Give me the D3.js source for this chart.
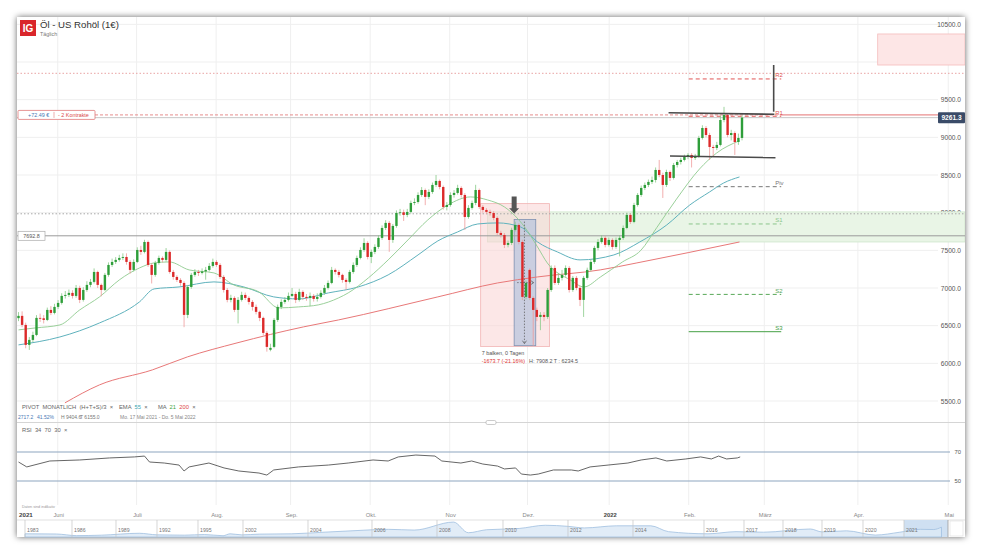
<!DOCTYPE html>
<html><head><meta charset="utf-8">
<script src="https://cdn.jsdelivr.net/npm/d3@7"></script>
<style>
html,body{margin:0;padding:0;background:#fff;}
svg{display:block;font-family:"Liberation Sans",Arial,sans-serif;}
svg text{white-space:pre;}
</style></head><body>
<svg id="chart" width="982" height="553"></svg>
<script>
// ---------------- DATA ----------------
const opens=[6600,6630,6510,6245,6311,6377,6603,6598,6576,6709,
6669,6749,6802,6895,6908,6935,6895,7001,6842,6974,
7041,7081,7213,7041,6974,7174,7306,7346,7373,7399,
7412,7346,7240,7346,7505,7479,7611,7306,7174,7333,
7399,7373,7479,7213,7147,7107,7067,6643,7014,7174,
7213,7200,7220,7240,7293,7346,7306,7147,6974,6842,
6868,6709,6842,6908,6868,6815,6749,6683,6603,6404,
6180,6218,6576,6749,6815,6842,6895,6921,6842,6948,
6882,6868,6895,6855,6882,6935,7001,7067,7240,7213,
7174,7107,7081,7213,7306,7399,7505,7598,7412,7479,
7545,7665,7797,7864,7638,7824,7996,8005,7970,8010,
8129,8142,8235,8301,8209,8275,8368,8421,8341,8076,
8102,8235,8262,8328,8235,7943,8063,8129,8301,8076,
8036,8010,7996,7930,7731,7704,7572,7598,7771,7837,
7611,6882,7240,6868,6709,6616,6643,6616,6974,7266,
7067,7134,7174,7266,6974,7134,7001,6842,7134,7240,
7346,7532,7611,7665,7572,7638,7545,7638,7665,7797,
7970,7877,8102,8235,8328,8368,8408,8434,8567,8500,
8368,8540,8461,8633,8673,8700,8739,8766,8726,8753,
8992,9124,9031,8872,8859,8899,9230,9296,9031,9057,
8938,8992];
const highs=[6680,6690,6540,6350,6420,6640,6660,6640,6740,6760,
6790,6840,6930,6960,6980,6970,7040,7030,7010,7090,
7120,7260,7230,7060,7200,7340,7390,7410,7440,7460,
7460,7370,7380,7540,7560,7640,7630,7330,7360,7430,
7420,7530,7500,7240,7170,7130,7090,7040,7200,7250,
7240,7260,7280,7330,7390,7370,7330,7170,7000,6910,
6890,6880,6950,6940,6890,6840,6780,6700,6620,6430,
6260,6600,6780,6850,6880,6940,7000,6950,6990,6970,
6920,6940,6920,6930,6970,7040,7100,7280,7260,7240,
7190,7130,7240,7340,7430,7540,7660,7620,7510,7580,
7700,7830,7900,7890,7850,8030,8050,8040,8050,8160,
8190,8270,8340,8320,8310,8400,8500,8440,8360,8140,
8270,8300,8370,8350,8260,8100,8160,8370,8320,8100,
8060,8040,8020,7950,7760,7730,7630,7800,7880,7860,
7640,7100,7260,6890,6740,6680,6680,7000,7300,7300,
7200,7240,7300,7290,7160,7160,7030,7160,7270,7380,
7560,7650,7700,7690,7670,7660,7670,7700,7830,8000,
7990,8130,8260,8360,8400,8440,8480,8600,8700,8530,
8570,8560,8660,8700,8730,8770,8790,8790,8780,9020,
9160,9150,9060,8900,8940,9290,9404.6,9320,9100,9080,
9050,9290];
const lows=[6560,6480,6200,6178,6280,6360,6550,6530,6560,6640,
6650,6720,6780,6860,6880,6860,6870,6800,6820,6950,
7010,7060,7000,6890,6960,7150,7280,7320,7350,7370,
7310,7190,7220,7330,7440,7460,7280,7060,7150,7310,
7340,7350,7190,7110,7080,7030,6480,6600,6990,7150,
7160,7180,7110,7220,7270,7280,7120,6940,6810,6810,
6680,6530,6820,6840,6780,6700,6650,6560,6370,6155,
6160,6200,6550,6720,6790,6820,6880,6800,6820,6840,
6830,6760,6820,6820,6860,6910,6980,7050,7180,7140,
7070,6975,7060,7190,7280,7380,7480,7380,7330,7450,
7520,7640,7770,7480,7600,7800,7960,7890,7940,7990,
8100,8120,8210,8100,8180,8250,8340,8310,8040,8030,
8080,8200,8240,8200,7771,7920,8040,8100,8050,8000,
7980,7960,7900,7700,7670,7530,7540,7570,7750,7580,
6840,6850,6840,6234.5,6560,6440,6560,6590,6950,7040,
7040,7100,7150,6940,6950,6970,6760,6616,7110,7220,
7320,7500,7590,7540,7550,7510,7520,7420,7640,7780,
7850,7860,8080,8210,8300,8340,8380,8400,8470,8195,
8340,8420,8440,8600,8640,8680,8710,8600,8700,8730,
8970,9000,8700,8750,8830,8880,9200,9000,8960,8766,
8900,8960];
const closes=[6630,6510,6245,6311,6377,6603,6598,6576,6709,6669,
6749,6802,6895,6908,6935,6895,7001,6842,6974,7041,
7081,7213,7041,6974,7174,7306,7346,7373,7399,7412,
7346,7240,7346,7505,7479,7611,7306,7174,7333,7399,
7373,7479,7213,7147,7107,7067,6643,7014,7174,7213,
7200,7220,7240,7293,7346,7306,7147,6974,6842,6868,
6709,6842,6908,6868,6815,6749,6683,6603,6404,6218,
6205,6576,6749,6815,6842,6895,6921,6842,6948,6882,
6868,6895,6855,6882,6935,7001,7067,7240,7213,7174,
7107,7081,7213,7306,7399,7505,7598,7412,7479,7545,
7665,7797,7864,7638,7824,7996,8005,7970,8010,8129,
8142,8235,8301,8209,8275,8368,8421,8341,8076,8102,
8235,8262,8328,8235,7943,8063,8129,8301,8076,8036,
8010,7996,7930,7731,7704,7572,7598,7771,7837,7611,
6882,7067,6868,6709,6616,6643,6616,6974,7266,7067,
7134,7174,7266,6974,7134,7001,6842,7134,7240,7346,
7532,7611,7665,7572,7638,7545,7638,7665,7797,7970,
7877,8102,8235,8328,8368,8408,8434,8567,8500,8368,
8540,8461,8633,8673,8700,8739,8766,8726,8753,8992,
9124,9031,8872,8859,8899,9230,9296,9031,9057,8938,
8992,9261.3];

// indicator readings: [bar index, value]
const ema55=[[0,6245],[11.5,6350],[22.5,6536],[33.6,6815],[37.7,6988],[44.6,7014],[54.3,7081],[62.6,7014],[70.9,6882],[77.8,6855],[86.1,6935],[94.4,7014],[102.7,7174],[111,7439],[116.5,7625],[122,7744],[127.6,7850],[133.1,7864],[139.5,7810],[144.2,7611],[149.7,7479],[156,7373],[165.4,7439],[172.6,7611],[180.1,7837],[186.5,8102],[192,8275],[195.9,8394],[200.3,8474]];
const ma21=[[0,6444],[4.7,6470],[11.5,6510],[17,6709],[22.5,6882],[28,7107],[33.6,7266],[37.7,7333],[41.9,7346],[47.4,7240],[54.3,7200],[59.8,7041],[66.8,6948],[72.3,6736],[77.8,6749],[83.3,6776],[88.9,6868],[91.6,6935],[97.2,7134],[102.7,7373],[108.2,7638],[113.7,7903],[119.3,8102],[125.6,8209],[130.3,8169],[135,8076],[140.6,7810],[144.2,7545],[146.9,7333],[153.3,7107],[157.1,7014],[161.7,7147],[167.8,7346],[172.9,7500],[177.3,7800],[182.8,8180],[189.2,8580],[193.9,8790],[200.3,8955]];
const ma200=[[12.9,5475],[22.5,5714],[37.2,5913],[46.9,6085],[60.7,6271],[79.2,6484],[88.9,6576],[116.5,6882],[133.1,7067],[144.2,7147],[161.6,7240],[171.8,7333],[200.3,7611]];
const rsi=[[0,63.1],[2.3,59.7],[8.7,63.8],[17,64.5],[25.3,65.9],[32.2,66.6],[35,67.2],[36.4,63.1],[40.5,62.4],[44.6,61.0],[46,56.9],[47.4,59.7],[52.9,62.4],[57.1,59.0],[61.2,56.9],[66.8,55.5],[69,54.1],[70.9,57.6],[77.8,59.7],[86.1,61.0],[91.6,62.4],[98.5,64.5],[102.7,63.8],[105.5,66.6],[110.4,67.9],[115.7,67.2],[117.6,63.8],[122.9,62.4],[125.9,63.8],[129,61.7],[133.1,60.3],[135,58.3],[138.1,59.0],[139.7,54.8],[142.2,54.1],[144.4,54.8],[148.6,57.6],[153.6,57.6],[155.5,56.9],[158.8,59.7],[163.8,61.0],[169.3,62.4],[173,64.5],[177.1,65.9],[180.1,63.8],[185.4,65.2],[189.5,66.6],[192.5,65.2],[194.5,67.2],[196.7,65.2],[199.7,65.9],[200.5,66.6]];

const priceTicks=[5500,6000,6500,7000,7500,8000,8500,9000,9500,10000,10500];
const rsiLevels=[70,50];
const monthLabels=["Juni","Juli","Aug.","Sep.","Okt.","Nov","Dez.","2022","Feb.","März","Apr.","Mai"];
const monthPos=[10.9,32.8,54.9,75.6,97.7,119.8,141.4,164.1,186.2,207.2,233.2,258.3];

const pivotNames=["R2","R1","Piv","S1","S2","S3"];
const pivotValues=[9775,9280,8345,7850,6915,6420];
const pivotRange=[186.2,211.9];

const lastPrice=9261.3;
const entryPrice=9297.5;
const targetLevel=9850;
const level8000=7985;
const levelLine=7692.8;
const greenZone={from:130.3,to:262,hi:8010,lo:7611};
const pinkTopZone={from:238.7,to:262,hi:10372,lo:9960};
const pinkBox={from:128.4,to:147.5,hi:8120,lo:6222};
const measureBox={from:137.7,to:143.7,hi:7908.2,lo:6234.5};
const trendTop=[[180.6,9327],[210,9306]];
const trendVert=[[209.8,9960],[209.8,9340]];
const trendBottom=[[181,8753],[210.3,8730]];

const navYears=[1983,1986,1989,1992,1995,2002,2004,2006,2008,2010,2012,2014,2016,2017,2018,2019,2020,2021];
const navPrices=[[1983,30],[1985,28],[1986.3,13],[1988,17],[1990.7,35],[1992,20],[1994,17],[1996,23],[1998.9,12],[2000,30],[2001.8,20],[2002.5,27],[2003.5,30],[2004.5,45],[2005.5,60],[2006.5,72],[2007.3,65],[2008.5,140],[2008.95,40],[2009.5,68],[2010.5,80],[2011.3,110],[2012,100],[2012.5,85],[2013.5,105],[2014.5,105],[2015,50],[2016.1,30],[2016.8,50],[2017.5,45],[2018.7,75],[2019,48],[2019.6,58],[2020.3,18],[2020.9,45],[2021.5,72],[2021.9,70],[2022.15,92]];

// ---------------- LAYOUT ----------------
const svg=d3.select("#chart");
const cardL=17,cardT=17,cardR=965,cardB=537;
const plotR=938;
const x=d3.scaleLinear().domain([0,201]).range([18.5,742]);
const y=d3.scaleLinear().domain([5500,10000]).range([401,62]);
const yR=d3.scaleLinear().domain([50,70]).range([481,452]);
const nx=d3.scaleLinear().domain([1983,1986,1989,1992,1995,2002,2004,2006,2008,2010,2012,2014,2016,2017,2018,2019,2020,2021,2022.35])
  .range([25,72,116,157,198,243,308,372,437,503,568,633,704,744,783,822,863,904,948]);
const ny=d3.scaleLinear().domain([0,150]).range([537,521]);

const defs=svg.append("defs");
const f=defs.append("filter").attr("id","sh").attr("x","-5%").attr("y","-5%").attr("width","110%").attr("height","110%");
f.append("feDropShadow").attr("dx",0).attr("dy",0).attr("stdDeviation",3).attr("flood-color","#000").attr("flood-opacity",0.6);
defs.append("clipPath").attr("id","cp").append("rect").attr("x",cardL).attr("y",cardT).attr("width",cardR-cardL).attr("height",420-cardT);

svg.append("rect").attr("x",cardL).attr("y",cardT).attr("width",cardR-cardL).attr("height",cardB-cardT).attr("fill","#fff").attr("filter","url(#sh)");

const g=svg.append("g");
// grid
g.selectAll(".hg").data(priceTicks).enter().append("line")
 .attr("x1",cardL).attr("x2",plotR).attr("y1",d=>y(d)).attr("y2",d=>y(d)).attr("stroke","#efefef");
g.selectAll(".vg").data(monthPos).enter().append("line")
 .attr("x1",d=>x(d)).attr("x2",d=>x(d)).attr("y1",cardT).attr("y2",505).attr("stroke","#efefef");

// y labels
g.selectAll(".yl").data(priceTicks).enter().append("text")
 .attr("x",961).attr("y",d=>y(d)+2.5).attr("text-anchor","end").attr("font-size",6.6).attr("fill","#555")
 .text(d=>d3.format(".1f")(d));

const pg=svg.append("g").attr("clip-path","url(#cp)");

// zones
pg.append("rect").attr("x",x(greenZone.from)).attr("width",cardR-x(greenZone.from)).attr("y",y(greenZone.hi)).attr("height",y(greenZone.lo)-y(greenZone.hi))
 .attr("fill","#e9f5e6").attr("stroke","#cfe6cb").attr("stroke-width",0.8);
pg.append("rect").attr("x",x(pinkTopZone.from)).attr("width",cardR-x(pinkTopZone.from)).attr("y",y(pinkTopZone.hi)).attr("height",y(pinkTopZone.lo)-y(pinkTopZone.hi))
 .attr("fill","#fde6e6").attr("stroke","#f4bcbc").attr("stroke-width",0.8);
pg.append("rect").attr("x",x(pinkBox.from)).attr("width",x(pinkBox.to)-x(pinkBox.from)).attr("y",y(pinkBox.hi)).attr("height",y(pinkBox.lo)-y(pinkBox.hi))
 .attr("fill","#f9d3d3").attr("fill-opacity",0.55).attr("stroke","#f1b4b4").attr("stroke-width",0.8);
pg.append("rect").attr("x",x(measureBox.from)).attr("width",x(measureBox.to)-x(measureBox.from)).attr("y",y(measureBox.hi)).attr("height",y(measureBox.lo)-y(measureBox.hi))
 .attr("fill","#b9c6dd").attr("fill-opacity",0.75).attr("stroke","#7d8fb0").attr("stroke-width",0.8);

// horizontal levels
pg.append("line").attr("x1",cardL).attr("x2",cardR).attr("y1",y(targetLevel)).attr("y2",y(targetLevel)).attr("stroke","#e9a3a3").attr("stroke-dasharray","1.5,2");
pg.append("line").attr("x1",cardL).attr("x2",cardR).attr("y1",y(level8000)).attr("y2",y(level8000)).attr("stroke","#a8a8a8").attr("stroke-dasharray","1.5,2");
pg.append("line").attr("x1",cardL).attr("x2",cardR).attr("y1",y(levelLine)).attr("y2",y(levelLine)).attr("stroke","#9a9a9a").attr("stroke-width",1);
pg.append("line").attr("x1",cardL).attr("x2",plotR).attr("y1",y(lastPrice)).attr("y2",y(lastPrice)).attr("stroke","#c8c8c8");
pg.append("line").attr("x1",95).attr("x2",x(pivotRange[1])).attr("y1",y(entryPrice)).attr("y2",y(entryPrice)).attr("stroke","#e07070").attr("stroke-dasharray","3,2").attr("stroke-width",0.8);
pg.append("line").attr("x1",x(pivotRange[1])).attr("x2",cardR).attr("y1",y(entryPrice)).attr("y2",y(entryPrice)).attr("stroke","#e06060").attr("stroke-width",0.9);

// pivots
const pivColors=["#e05555","#e05555","#777","#8cc78c","#58a858","#45a045"];
const pivDash=["4,3","4,3","4,3","4,3","4,3",null];
pivotValues.forEach((v,k)=>{
  const ln=pg.append("line").attr("x1",x(pivotRange[0])).attr("x2",x(pivotRange[1])).attr("y1",y(v)).attr("y2",y(v))
    .attr("stroke",pivColors[k]).attr("stroke-width",1);
  if(pivDash[k]) ln.attr("stroke-dasharray",pivDash[k]);
  pg.append("text").attr("x",x(pivotRange[1])-6).attr("y",y(v)-1.5).attr("font-size",6).attr("fill",pivColors[k]).text(pivotNames[k]);
});

// MAs
const ln=d3.line().x(d=>x(d[0])).y(d=>y(d[1])).curve(d3.curveMonotoneX);
pg.append("path").attr("d",ln(ma200)).attr("fill","none").attr("stroke","#e87878").attr("stroke-width",1);
pg.append("path").attr("d",ln(ema55)).attr("fill","none").attr("stroke","#5fb2bd").attr("stroke-width",1);
pg.append("path").attr("d",ln(ma21)).attr("fill","none").attr("stroke","#8fcb8f").attr("stroke-width",0.9);

// candles
const idx=d3.range(closes.length);
const cw=2.4;
pg.selectAll(".wk").data(idx).enter().append("line")
 .attr("x1",i=>x(i)).attr("x2",i=>x(i)).attr("y1",i=>y(highs[i])).attr("y2",i=>y(lows[i]))
 .attr("stroke",i=>closes[i]>=opens[i]?"#86c986":"#ef9a9a").attr("stroke-width",0.8);
pg.selectAll(".bd").data(idx).enter().append("rect")
 .attr("x",i=>x(i)-cw/2).attr("width",cw)
 .attr("y",i=>y(Math.max(opens[i],closes[i])))
 .attr("height",i=>Math.max(0.8,Math.abs(y(opens[i])-y(closes[i]))))
 .attr("fill",i=>closes[i]>=opens[i]?"#2e9e3a":"#dc2a2a");

// measurement details
const mx=x((measureBox.from+measureBox.to)/2)-0.5;
pg.append("line").attr("x1",mx).attr("x2",mx).attr("y1",y(measureBox.hi)+2).attr("y2",y(measureBox.lo)-3).attr("stroke","#555").attr("stroke-dasharray","1.5,1.5").attr("stroke-width",0.7);
pg.append("path").attr("d",`M${mx-2},${y(measureBox.lo)-5}L${mx},${y(measureBox.lo)-2}L${mx+2},${y(measureBox.lo)-5}`).attr("fill","none").attr("stroke","#555").attr("stroke-width",0.7);
const my=y((measureBox.hi+measureBox.lo)/2);
pg.append("line").attr("x1",x(measureBox.from)+3).attr("x2",x(measureBox.to)-3).attr("y1",my).attr("y2",my).attr("stroke","#555").attr("stroke-dasharray","1.5,1.5").attr("stroke-width",0.7);
pg.append("path").attr("d",`M${x(measureBox.to)-5},${my-2}L${x(measureBox.to)-2},${my}L${x(measureBox.to)-5},${my+2}`).attr("fill","none").attr("stroke","#555").attr("stroke-width",0.7);
// down arrow
const ax=x(measureBox.from);
pg.append("path").attr("d",`M${ax-2.5},${y(8215)}h5v${y(8060)-y(8215)}h2.5l-5,${y(7990)-y(8060)}l-5,${-(y(7990)-y(8060))}h2.5z`).attr("fill","#555");

svg.append("text").attr("x",x(pinkBox.from)+1).attr("y",355).attr("font-size",5.4).attr("fill","#555").text("7 balken, 0 Tagen");
svg.append("text").attr("x",x(pinkBox.from)+1).attr("y",362.5).attr("font-size",5.4).attr("fill","#d33").text("-1673.7 (-21.16%)");
svg.append("text").attr("x",529).attr("y",362.5).attr("font-size",5.4).attr("fill","#555").text("H: 7908.2 T : 6234.5");

// drawings
const dl=d3.line().x(d=>x(d[0])).y(d=>y(d[1]));
[trendTop,trendVert,trendBottom].forEach(t=>pg.append("path").attr("d",dl(t)).attr("stroke","#4a4a4a").attr("stroke-width",1.6).attr("fill","none"));

// labels on left
const lb=svg.append("g");
lb.append("rect").attr("x",18).attr("y",y(entryPrice)-4.5).attr("width",77).attr("height",9).attr("fill","#fff").attr("stroke","#e07a7a").attr("stroke-width",0.8).attr("rx",1);
lb.append("text").attr("x",28).attr("y",y(entryPrice)+2).attr("font-size",5.4).attr("fill","#4a78b5").text("+72.49 €");
lb.append("line").attr("x1",54).attr("x2",54).attr("y1",y(entryPrice)-3).attr("y2",y(entryPrice)+3).attr("stroke","#e07a7a").attr("stroke-width",0.6);
lb.append("text").attr("x",58).attr("y",y(entryPrice)+2).attr("font-size",5.4).attr("fill","#d94a4a").text("- 2 Kontrakte");
lb.append("rect").attr("x",18).attr("y",y(levelLine)-4.5).attr("width",27).attr("height",9).attr("fill","#fff").attr("stroke","#aaa").attr("stroke-width",0.7);
lb.append("text").attr("x",31.5).attr("y",y(levelLine)+2).attr("text-anchor","middle").attr("font-size",5.4).attr("fill","#555").text("7692.8");
// last price
lb.append("rect").attr("x",938).attr("y",y(lastPrice)-5.5).attr("width",27).attr("height",11).attr("fill","#3a4b68").attr("rx",1);
lb.append("text").attr("x",951.5).attr("y",y(lastPrice)+2.5).attr("text-anchor","middle").attr("font-size",6.6).attr("font-weight","bold").attr("fill","#fff").text(d3.format(".1f")(lastPrice));

// title
svg.append("rect").attr("x",20).attr("y",20).attr("width",16).attr("height",16).attr("fill","#d9262b");
svg.append("text").attr("x",28).attr("y",31.5).attr("text-anchor","middle").attr("font-size",10).attr("font-weight","bold").attr("fill","#fff").text("IG");
svg.append("text").attr("x",40).attr("y",28).attr("font-size",9.6).attr("fill","#333").text("Öl - US Rohöl (1€)");
svg.append("text").attr("x",40).attr("y",36).attr("font-size",5.3).attr("fill","#777").text("Täglich");

// legend
svg.append("text").attr("x",22).attr("y",409).attr("font-size",5.8).attr("fill","#666").text("PIVOT  MONATLICH  (H+T+S)/3  ×");
const lgE=svg.append("text").attr("x",119).attr("y",409).attr("font-size",5.8).attr("fill","#666");
lgE.append("tspan").text("EMA  ");
lgE.append("tspan").attr("fill","#3aa8b5").text("55");
lgE.append("tspan").text("  ×");
const lgM=svg.append("text").attr("x",158).attr("y",409).attr("font-size",5.8).attr("fill","#666");
lgM.append("tspan").text("MA  ");
lgM.append("tspan").attr("fill","#3fa83f").text("21");
lgM.append("tspan").text("  ");
lgM.append("tspan").attr("fill","#e04848").text("200");
lgM.append("tspan").text("  ×");
svg.append("text").attr("x",18).attr("y",419).attr("font-size",5).attr("fill","#4a78b5").text("2717.2");
svg.append("text").attr("x",37).attr("y",419).attr("font-size",5).attr("fill","#4a78b5").text("41.52%");
svg.append("text").attr("x",61).attr("y",419).attr("font-size",5).attr("fill","#777").text("H 9404.6");
svg.append("text").attr("x",80).attr("y",419).attr("font-size",5).attr("fill","#777").text("T 6155.0");
svg.append("text").attr("x",120).attr("y",419).attr("font-size",5).attr("fill","#888").text("Mo. 17 Mai 2021 - Do. 5 Mai 2022");

// separator
svg.append("line").attr("x1",cardL).attr("x2",cardR).attr("y1",422.5).attr("y2",422.5).attr("stroke","#d5d5d5");
svg.append("rect").attr("x",486).attr("y",420.5).attr("width",10).attr("height",4).attr("rx",1.5).attr("fill","#fff").attr("stroke","#aaa").attr("stroke-width",0.6);

// RSI pane
svg.append("text").attr("x",22).attr("y",432).attr("font-size",5.8).attr("fill","#666").text("RSI  34  70  30  ×");
rsiLevels.forEach(v=>{
  svg.append("line").attr("x1",cardL).attr("x2",950).attr("y1",yR(v)).attr("y2",yR(v)).attr("stroke","#8ea5bf").attr("stroke-width",1.2);
  svg.append("text").attr("x",961).attr("y",yR(v)+2).attr("text-anchor","end").attr("font-size",5.8).attr("fill","#555").text(v);
});
const rl=d3.line().x(d=>x(d[0])).y(d=>yR(d[1]));
svg.append("path").attr("d",rl(rsi)).attr("fill","none").attr("stroke","#555").attr("stroke-width",0.9);

// time axis
svg.append("text").attr("x",22).attr("y",508).attr("font-size",3.8).attr("fill","#999").text("Daten sind indikativ");
svg.append("text").attr("x",19).attr("y",517).attr("font-size",6.2).attr("font-weight","bold").attr("fill","#444").text("2021");
svg.selectAll(".ml").data(monthLabels).enter().append("text")
 .attr("x",(d,k)=>x(monthPos[k])+1).attr("y",517).attr("text-anchor","middle").attr("font-size",5.8)
 .attr("font-weight",d=>d==="2022"?"bold":"normal").attr("fill",d=>d==="2022"?"#444":"#888").text(d=>d);

// navigator
const nv=svg.append("g");
nv.append("line").attr("x1",cardL).attr("x2",cardR).attr("y1",520).attr("y2",520).attr("stroke","#ccc").attr("stroke-width",0.6);
nv.append("rect").attr("x",nx(2021)).attr("y",520).attr("width",nx(2022.35)-nx(2021)).attr("height",17).attr("fill","#cfe0f2");
const na=d3.area().x(d=>nx(d[0])).y0(537).y1(d=>ny(d[1])).curve(d3.curveMonotoneX);
nv.append("path").attr("d",na(navPrices)).attr("fill","#dce9f6").attr("fill-opacity",0.85).attr("stroke","#9fbfe0").attr("stroke-width",0.8);
nv.selectAll(".ns").data(navYears).enter().append("line").attr("x1",d=>nx(d)).attr("x2",d=>nx(d)).attr("y1",520).attr("y2",537).attr("stroke","#c4c4c4").attr("stroke-width",0.7);
nv.selectAll(".nt").data(navYears).enter().append("text").attr("x",d=>nx(d)+2).attr("y",532).attr("font-size",5.2).attr("fill","#777").text(d=>d);
nv.append("line").attr("x1",nx(2022.35)).attr("x2",nx(2022.35)).attr("y1",520).attr("y2",537).attr("stroke","#999").attr("stroke-width",0.8);
nv.append("rect").attr("x",nx(2022.35)+2).attr("y",521).attr("width",cardR-nx(2022.35)-4).attr("height",15).attr("fill","#fff").attr("stroke","#ddd").attr("stroke-width",0.6);
</script>
</body></html>
